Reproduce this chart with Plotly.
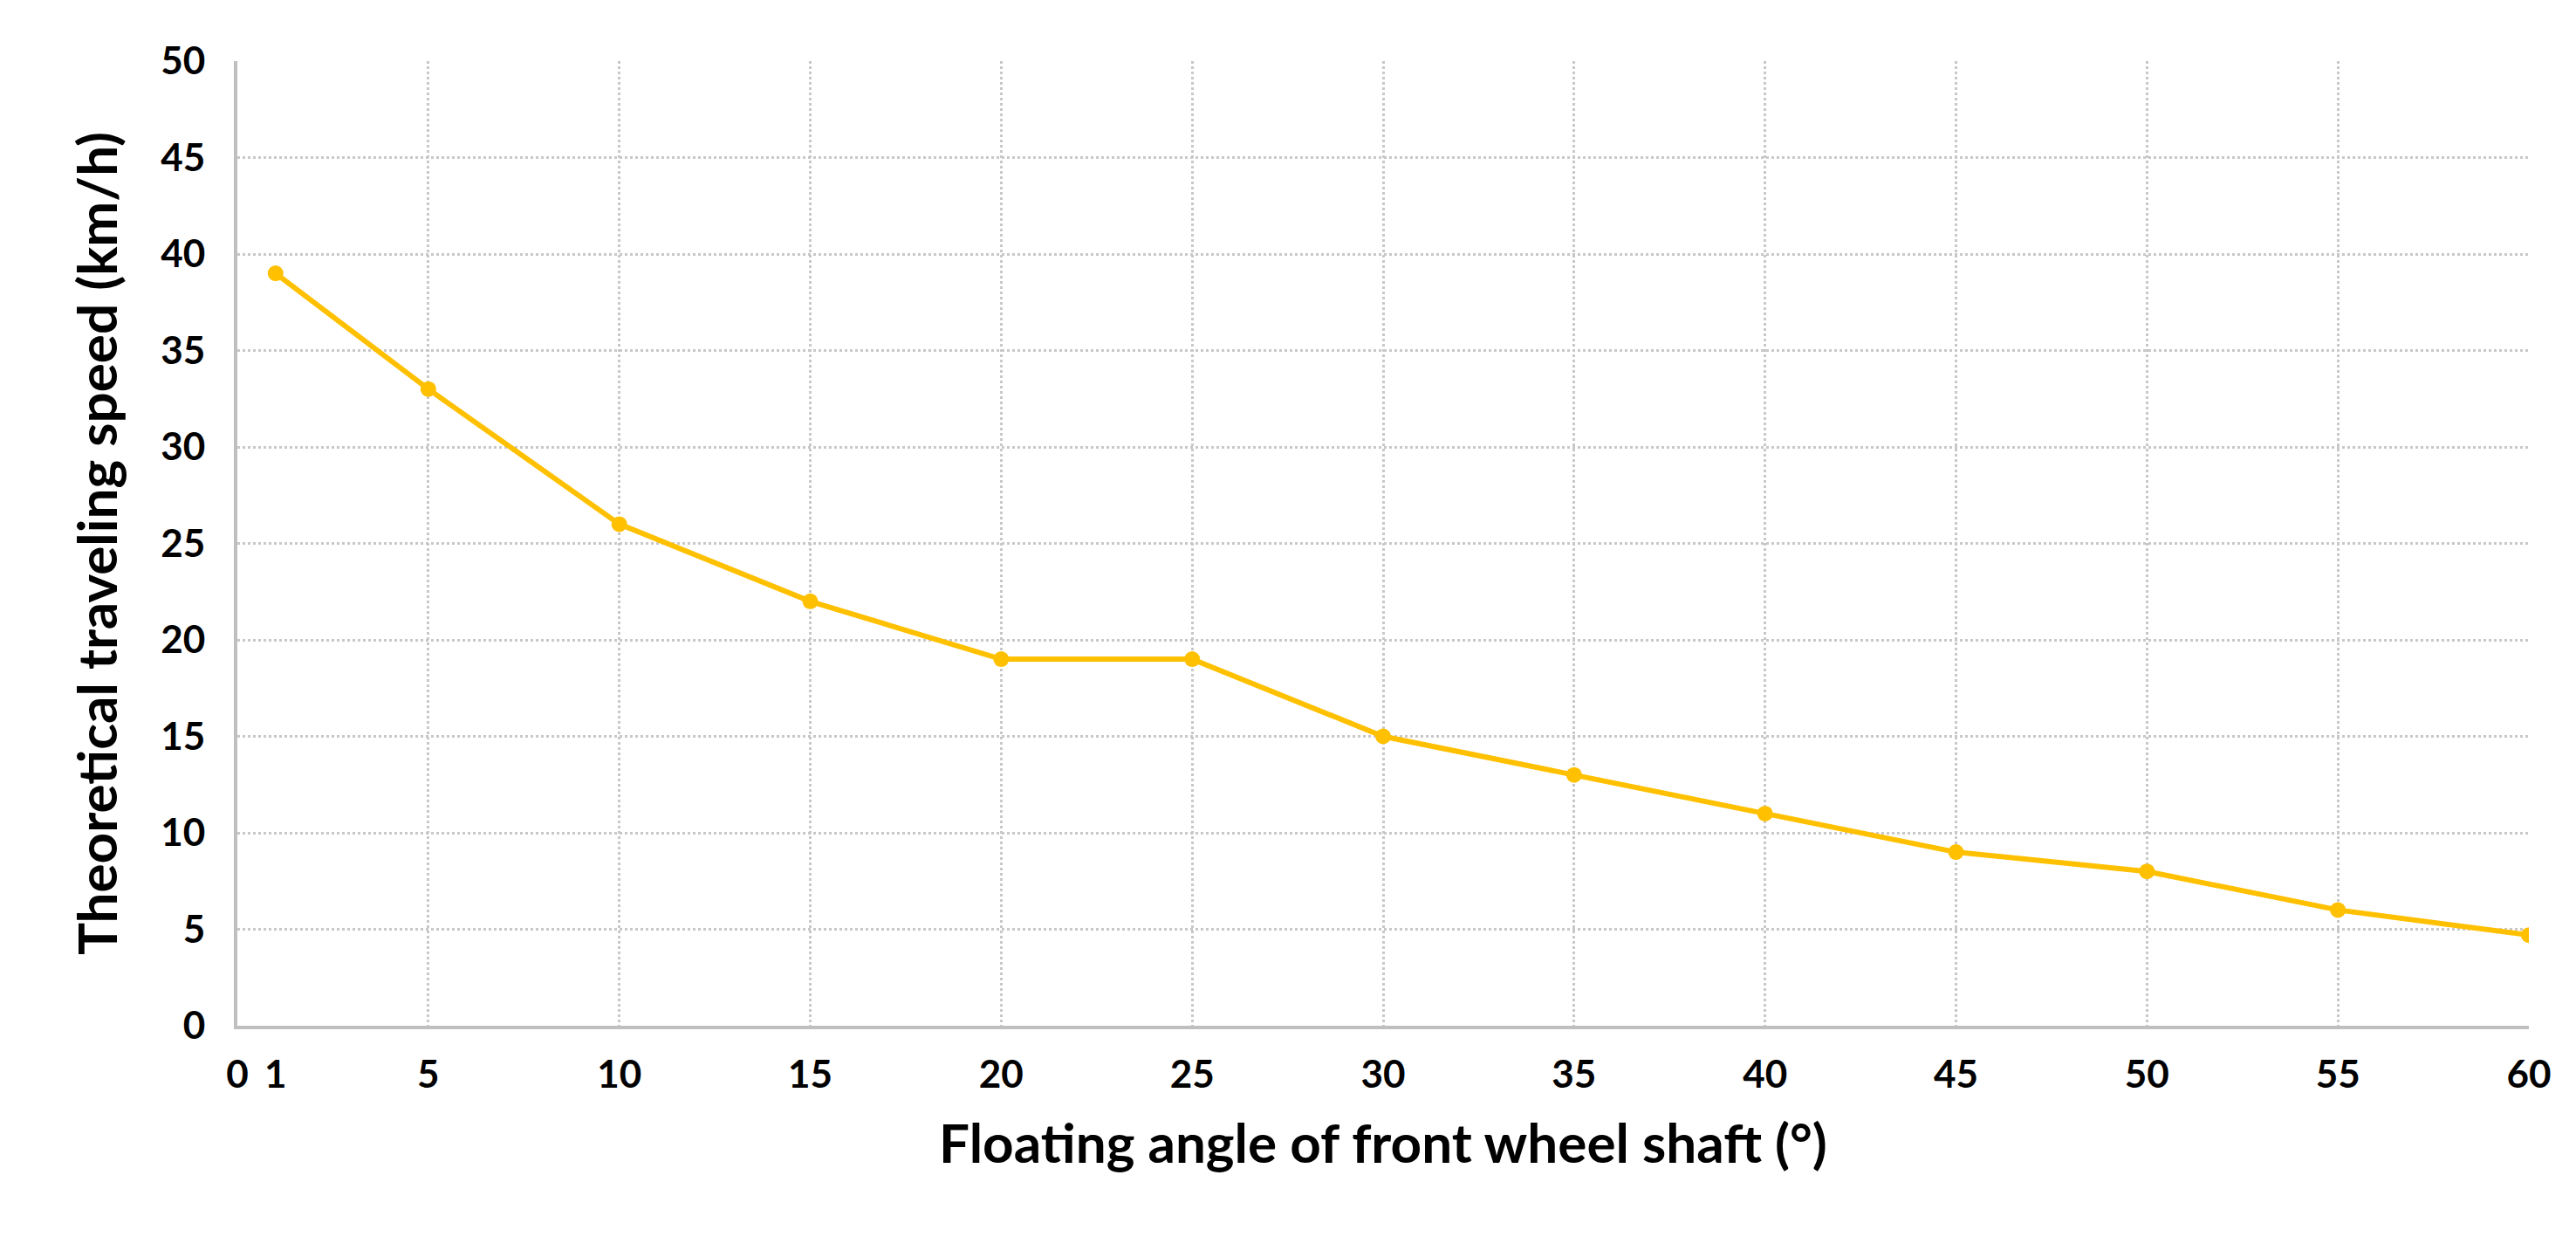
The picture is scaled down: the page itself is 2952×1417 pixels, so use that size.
import plotly.graph_objects as go

angle = [1, 5, 10, 15, 20, 25, 30, 35, 40, 45, 50, 55, 60]
speed = [39, 33, 26, 22, 19, 19, 15, 13, 11, 9, 8, 6, 4.7]
x_ticks = [0, 1, 5, 10, 15, 20, 25, 30, 35, 40, 45, 50, 55, 60]
y_ticks = list(range(0, 51, 5))

FONT = "Lato"

fig = go.Figure()
fig.add_trace(go.Scatter(
    x=angle, y=speed, mode="lines+markers",
    line=dict(color="#FFC000", width=6),
    marker=dict(color="#FFC000", size=18),
    showlegend=False,
))

fig.update_layout(
    width=2952, height=1417,
    paper_bgcolor="white", plot_bgcolor="white",
    margin=dict(l=264, r=62, t=62, b=250),
    font=dict(family=FONT, color="black"),
)
fig.update_xaxes(
    range=[0, 60], tickvals=x_ticks, ticktext=[str(v) for v in x_ticks],
    showgrid=False, showline=True, linecolor="#bfbfbf", linewidth=4,
    ticks="", tickfont=dict(size=44, family=FONT, weight="bold"),
    ticklabelstandoff=14,
    minor=dict(tick0=0, dtick=5, showgrid=True, gridcolor="#c8c8c8",
               griddash="dot", gridwidth=3, ticks=""),
    title=dict(text="Floating angle of front wheel shaft (°)",
               font=dict(size=62, family=FONT, weight="bold"), standoff=36),
    zeroline=False,
)
fig.update_yaxes(
    range=[0, 50], tickvals=y_ticks,
    showgrid=True, gridcolor="#c8c8c8", griddash="dot", gridwidth=3,
    showline=True, linecolor="#bfbfbf", linewidth=4, ticks="",
    tickfont=dict(size=44, family=FONT, weight="bold"), ticklabelstandoff=24,
    title=dict(text="Theoretical traveling speed (km/h)",
               font=dict(size=62, family=FONT, weight="bold"), standoff=30),
    zeroline=False,
)

fig.write_html("out.html")
